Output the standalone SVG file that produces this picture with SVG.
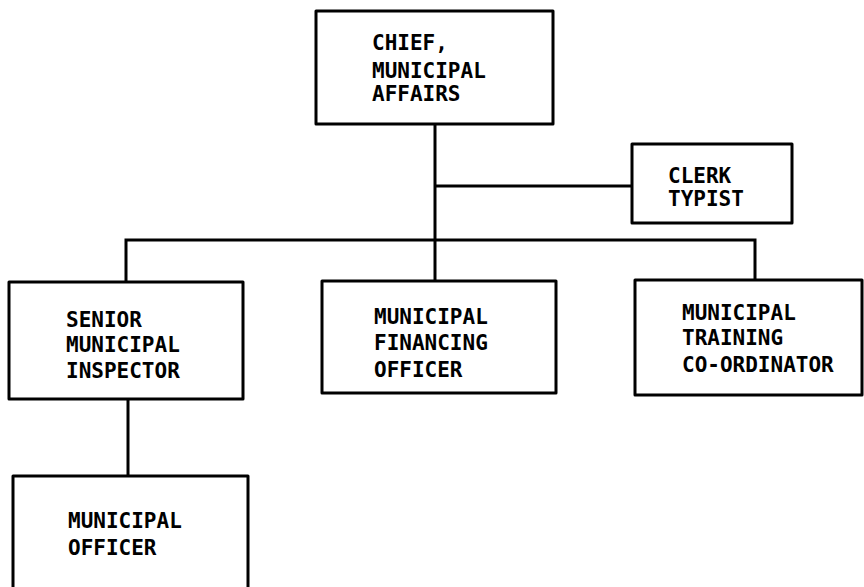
<svg xmlns="http://www.w3.org/2000/svg" width="864" height="587" viewBox="0 0 864 587">
  <style>
    .box { fill: #fff; stroke: #000; stroke-width: 3; stroke-linejoin: round; }
    .link { fill: none; stroke: #000; stroke-width: 3; }
    text { font-family: "DejaVu Sans Mono", "Liberation Mono", monospace; font-size: 21px; font-weight: bold; fill: #000; }
  </style>
  <rect width="864" height="587" fill="#fff"/>

  <!-- reporting lines -->
  <g id="connectors">
    <path class="link" d="M435 124 V281"/>
    <path class="link" d="M435 186 H632"/>
    <path class="link" d="M126 282 V240 H755 V280"/>
    <path class="link" d="M128 399 V476"/>
  </g>

  <g id="chief">
    <rect class="box" x="316" y="11" width="237" height="113"/>
    <text x="372" y="50">CHIEF,</text>
    <text x="372" y="78">MUNICIPAL</text>
    <text x="372" y="101">AFFAIRS</text>
  </g>

  <g id="clerk">
    <rect class="box" x="632" y="144" width="160" height="79"/>
    <text x="668" y="183">CLERK</text>
    <text x="668" y="206">TYPIST</text>
  </g>

  <g id="senior-inspector">
    <rect class="box" x="9" y="282" width="234" height="117"/>
    <text x="66" y="327">SENIOR</text>
    <text x="66" y="352">MUNICIPAL</text>
    <text x="66" y="378">INSPECTOR</text>
  </g>

  <g id="financing-officer">
    <rect class="box" x="322" y="281" width="234" height="112"/>
    <text x="374" y="324">MUNICIPAL</text>
    <text x="374" y="350">FINANCING</text>
    <text x="374" y="377">OFFICER</text>
  </g>

  <g id="training-coordinator">
    <rect class="box" x="635" y="280" width="227" height="115"/>
    <text x="682" y="320">MUNICIPAL</text>
    <text x="682" y="345">TRAINING</text>
    <text x="682" y="372">CO-ORDINATOR</text>
  </g>

  <g id="municipal-officer">
    <rect class="box" x="13" y="476" width="235" height="120"/>
    <text x="68" y="528">MUNICIPAL</text>
    <text x="68" y="555">OFFICER</text>
  </g>
</svg>
